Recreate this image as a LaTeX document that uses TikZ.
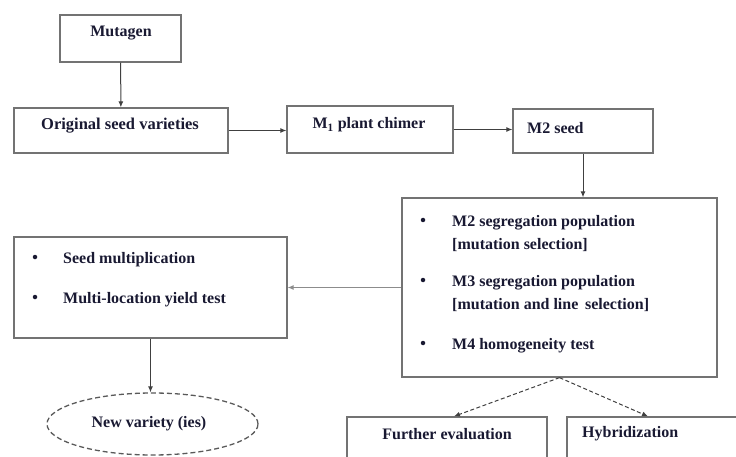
\documentclass[tikz,border=0pt]{standalone}
\usepackage{fontspec}
\setmainfont{Liberation Serif}
\usetikzlibrary{shapes.geometric,arrows.meta}
\definecolor{inkblue}{RGB}{25,25,50}
\begin{document}
\begin{tikzpicture}[x=1pt,y=-1pt,
	box/.style={draw=black!55, line width=1.3pt, rectangle, inner sep=0pt},
	txt/.style={font=\bfseries\fontsize{16}{19}\selectfont, text=inkblue, inner sep=0pt},
	dot/.style={circle, fill=inkblue, minimum size=4.5pt, inner sep=0pt},
	arr/.style={-{Latex[length=6pt,width=5pt]}, line width=1pt, black!75}]
		\useasboundingbox (0,0) rectangle (736,457);
		\clip (0,0) rectangle (736,457);
		% boxes
		\node[box, minimum width=121pt, minimum height=47pt] (mutagen) at (120.5,38.5) {};
		\node[box, minimum width=214pt, minimum height=45pt] (orig) at (121,130.5) {};
		\node[box, minimum width=166pt, minimum height=47pt] (mone) at (370,129.5) {};
		\node[box, minimum width=140pt, minimum height=44pt] (mtwo) at (583,131) {};
		\node[box, minimum width=315pt, minimum height=179pt] (popbox) at (559.5,287.5) {};
		\node[box, minimum width=273pt, minimum height=101pt] (yieldbox) at (150.5,287.5) {};
		\node[box, ellipse, draw=black!65, dash pattern=on 5pt off 3pt, minimum width=211pt, minimum height=62pt] (newvar) at (152.5,424) {};
		\node[box, minimum width=200pt, minimum height=63pt] (further) at (447,448.5) {};
		\node[box, minimum width=178pt, minimum height=63pt] (hybrid) at (656,448.5) {};
		% texts
		\node[txt] (mutagentxt) at (121,33) {Mutagen};
		\node[txt, font=\bfseries\fontsize{16.5}{19}\selectfont] (origtxt) at (120,126) {Original seed varieties};
		\node[txt] (monetxt) at (369,125) {M\textsubscript{1} plant chimer};
		\node[txt, anchor=west] (mtwotxt) at (527,128) {M2 seed};
		\foreach \y in {220,280,343}{\node[dot] (b\y) at (423,\y) {};}
		\node[txt, anchor=base west] (popa) at (452,226) {M2 segregation population};
		\node[txt, anchor=base west] (popb) at (452,249) {[mutation selection]};
		\node[txt, anchor=base west] (popc) at (452,286) {M3 segregation population};
		\node[txt, anchor=base west] (popd) at (452,309) {[mutation and line \,selection]};
		\node[txt, anchor=base west] (pope) at (452,349) {M4 homogeneity test};
		\foreach \y in {257,297}{\node[dot] (c\y) at (35,\y) {};}
		\node[txt, anchor=base west] (yielda) at (63,263) {Seed multiplication};
		\node[txt, anchor=base west] (yieldb) at (63,303) {Multi-location yield test};
		\node[txt] (newvartxt) at (149,424) {New variety (ies)};
		\node[txt] (furthertxt) at (447,434) {Further evaluation};
		\node[txt, anchor=west] (hybridtxt) at (582,434) {Hybridization};
		% connectors
		\draw[arr] (mutagen) -- (orig);
		\draw[arr] (orig.east) -- (orig.east -| mone.west);
		\draw[arr] (mone.east) -- (mone.east -| mtwo.west);
		\draw[arr] (mtwo.south) -- (mtwo.south |- popbox.north);
		\draw[arr, black!45] (popbox.west) -- (yieldbox.east);
		\draw[arr] (yieldbox.south) -- (yieldbox.south |- newvar.north);
		\draw[arr, dash pattern=on 4pt off 2.5pt] (popbox.south) -- ([xshift=7pt]further.north);
		\draw[arr, dash pattern=on 4pt off 2.5pt] (popbox.south) -- ([xshift=-8pt]hybrid.north);
\end{tikzpicture}
\end{document}
